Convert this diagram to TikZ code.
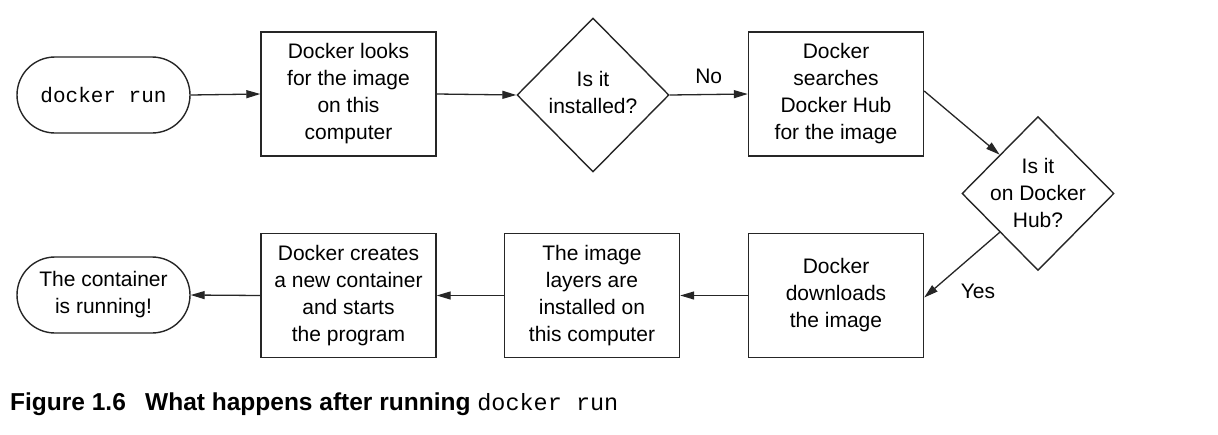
\documentclass[tikz,border=0pt]{standalone}
\usepackage{fontspec}
\setmainfont{Liberation Sans}
\setmonofont{Liberation Mono}
\usetikzlibrary{shapes.geometric,arrows.meta,calc}
\begin{document}
\begin{tikzpicture}[x=1pt,y=-1pt,
  every node/.style={font=\fontsize{21}{27}\selectfont, text=black},
  procbox/.style={draw=black!85, line width=1.4pt, minimum width=175pt, minimum height=124pt, inner sep=0pt, align=center},
  termbox/.style={draw=black!85, line width=1.4pt, rounded corners=38pt, minimum width=173pt, minimum height=76pt, inner sep=0pt, align=center},
  decision/.style={draw=black!85, line width=1.4pt, diamond, minimum width=152pt, minimum height=154pt, inner sep=0pt},
  dtext/.style={inner sep=0pt, align=center},
  flow/.style={draw=black!85, line width=1.3pt, -{Triangle[length=14pt,width=8pt]}},
  lbl/.style={inner sep=0pt},
  capfont/.style={font=\fontsize{24.5}{28}\selectfont\bfseries}
]
\useasboundingbox (0,0) rectangle (1218,434);
\fill[white] (0,0) rectangle (1218,434);

\node[termbox] (run) at (103.5,95) {\fontsize{21}{27}\selectfont\ttfamily docker run};
\node[procbox] (look) at (348.5,94) {Docker looks\\for the image\\on this\\computer};
\node[decision] (inst) at (593,95) {};
\node[dtext] (instt) at (593,92.5) {Is it\\installed?};
\node[procbox] (search) at (836,94) {Docker\\searches\\Docker Hub\\for the image};
\node[decision] (hub) at (1038,193.5) {};
\node[dtext] (hubt) at (1038,192.5) {Is it\\on Docker\\Hub?};
\node[procbox] (down) at (836,295.5) {Docker\\downloads\\the image};
\node[procbox] (layers) at (592,295.5) {The image\\layers are\\installed on\\this computer};
\node[procbox] (creates) at (348.5,295.5) {Docker creates\\a new container\\and starts\\the program};
\node[termbox] (cont) at (103.5,295) {The container\\is running!};

\draw[flow] (run.east) -- (look.west);
\draw[flow] (look.east) -- (inst.west);
\draw[flow] (inst.east) -- (search.west) node[lbl, midway, above=10pt] (no) {No};
\draw[flow] ($(search.east)+(0,-3)$) -- ($(hub.west)!0.5!(hub.north)$);
\draw[flow] ($(hub.west)!0.5!(hub.south)$) -- ($(down.east)+(0,2)$);
\node[lbl] (yes) at (978,291) {Yes};
\draw[flow] (down.west) -- (layers.east);
\draw[flow] (layers.west) -- (creates.east);
\draw[flow] (creates.west) -- (cont.east);

\node[lbl, anchor=west, capfont] (cap1) at (10,404) {Figure 1.6};
\node[lbl, anchor=west, capfont] (cap2) at (145,404) {What happens after running {\mdseries\fontsize{23.5}{28}\selectfont\ttfamily docker run}};
\end{tikzpicture}
\end{document}
